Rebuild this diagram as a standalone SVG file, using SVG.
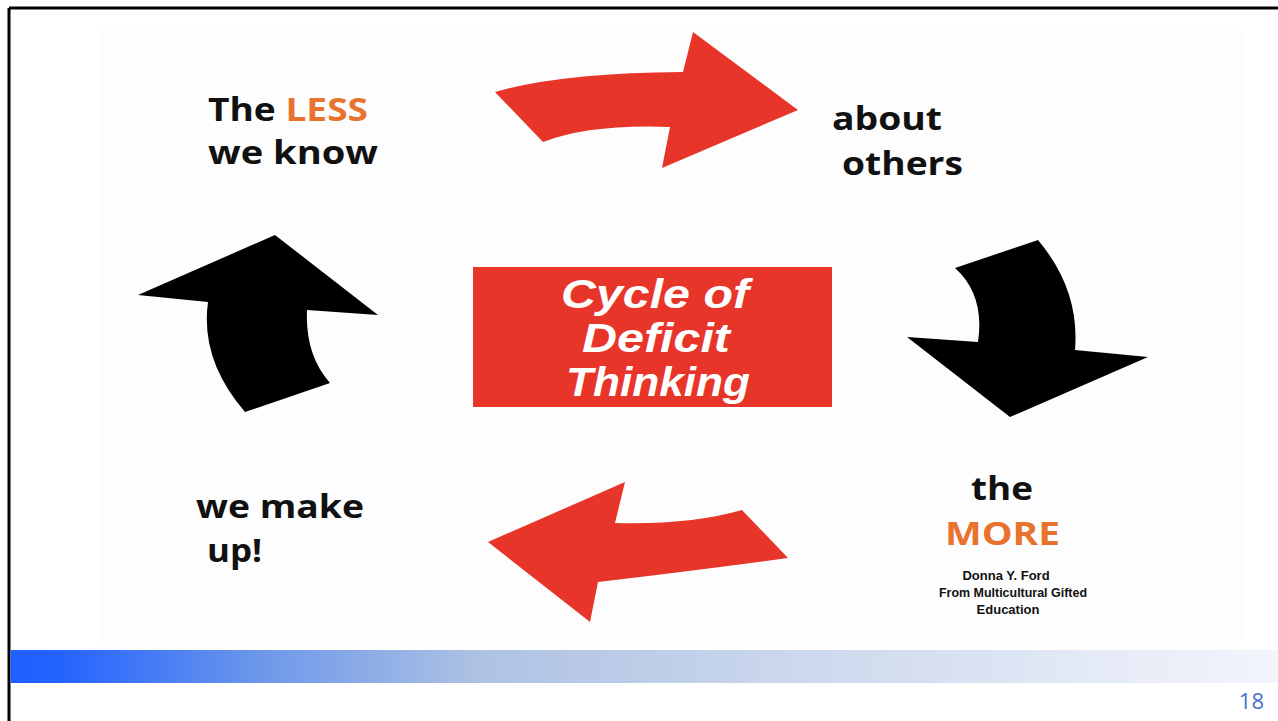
<svg xmlns="http://www.w3.org/2000/svg" width="1278" height="721" viewBox="0 0 1278 721">
  <defs>
    <linearGradient id="band" x1="10" y1="0" x2="1278" y2="0" gradientUnits="userSpaceOnUse">
      <stop offset="0" stop-color="#1f5fff"/>
      <stop offset="0.04" stop-color="#2563ff"/>
      <stop offset="0.2" stop-color="#6e98ea"/>
      <stop offset="0.37" stop-color="#aec2e3"/>
      <stop offset="0.6" stop-color="#c9d6ec"/>
      <stop offset="1" stop-color="#f3f5fc"/>
    </linearGradient>
    <style>
      .lbl { font-family: "Open Sans", "Liberation Sans", sans-serif; font-weight: 700; font-size: 32px; fill: #111; }
      .hot { fill: #e8732f; }
      .core { font-family: "Liberation Sans", Arial, sans-serif; font-weight: 700; font-style: italic; font-size: 40px; fill: #fff; text-anchor: middle; }
      .credit { font-family: "Liberation Sans", Arial, sans-serif; font-weight: 700; font-size: 13px; fill: #111; text-anchor: middle; }
      .red { fill: #e8352a; }
      .blk { fill: #000; }
    </style>
  </defs>

  <!-- slide frame -->
  <rect x="0" y="0" width="1278" height="721" fill="#fff"/>
  <rect x="100" y="30" width="1143" height="612" fill="#fdfdfd"/>
  <line x1="9" y1="8" x2="1278" y2="8" stroke="#000" stroke-width="3"/>
  <line x1="9" y1="8" x2="9" y2="721" stroke="#000" stroke-width="3"/>

  <!-- footer band -->
  <rect x="10.5" y="650" width="1267.5" height="33" fill="url(#band)"/>
  <text x="1264" y="709" text-anchor="end" font-family="'Open Sans', 'Liberation Sans', sans-serif" font-size="22" fill="#4472c4">18</text>

  <!-- central box -->
  <g id="cycle">
    <rect x="473" y="267" width="359" height="140" class="red"/>
    <text class="core" x="655" y="308" textLength="188" lengthAdjust="spacingAndGlyphs">Cycle of</text>
    <text class="core" x="656" y="352" textLength="148" lengthAdjust="spacingAndGlyphs">Deficit</text>
    <text class="core" x="658" y="396" textLength="184" lengthAdjust="spacingAndGlyphs">Thinking</text>
  </g>

  <!-- corner labels -->
  <g id="less">
    <text class="lbl" x="208" y="121" textLength="160" lengthAdjust="spacingAndGlyphs">The <tspan class="hot">LESS</tspan></text>
    <text class="lbl" x="208" y="164" textLength="170" lengthAdjust="spacingAndGlyphs">we know</text>
  </g>
  <g id="others">
    <text class="lbl" x="832" y="130" textLength="110" lengthAdjust="spacingAndGlyphs">about</text>
    <text class="lbl" x="842" y="175" textLength="121" lengthAdjust="spacingAndGlyphs">others</text>
  </g>
  <g id="more">
    <text class="lbl" x="971" y="500" textLength="62" lengthAdjust="spacingAndGlyphs">the</text>
    <text class="lbl hot" x="945" y="545" textLength="115" lengthAdjust="spacingAndGlyphs">MORE</text>
    <text class="credit" x="1006" y="580">Donna Y. Ford</text>
    <text class="credit" x="1013" y="597" textLength="148" lengthAdjust="spacingAndGlyphs">From Multicultural Gifted</text>
    <text class="credit" x="1008" y="614">Education</text>
  </g>
  <g id="makeup">
    <text class="lbl" x="196" y="518" textLength="168" lengthAdjust="spacingAndGlyphs">we make</text>
    <text class="lbl" x="207" y="562" textLength="55" lengthAdjust="spacingAndGlyphs">up!</text>
  </g>

  <!-- cycle arrows -->
  <g id="connectors">
    <!-- top: curved red arrow to the right -->
    <path class="red" d="M495 92 Q560 73 683 72 L693 32 L798 110 L662 168 L670 127 Q590 124 543 142 Z"/>
    <!-- right: black arrow curving downward -->
    <path class="blk" d="M955 268 L1038 240 Q1080 290 1075 350 L1148 357 L1010 417 L907 337 L978 342 Q985 295 955 268 Z"/>
    <!-- bottom: curved red arrow to the left -->
    <path class="red" d="M788 558 Q700 570 598 582 L590 622 L488 542 L625 482 L615 523 Q690 525 742 510 Z"/>
    <!-- left: black arrow curving upward -->
    <path class="blk" d="M245 412 Q200 360 208 302 L138 295 L275 235 L378 315 L307 310 Q305 355 330 383 Z"/>
  </g>
</svg>
